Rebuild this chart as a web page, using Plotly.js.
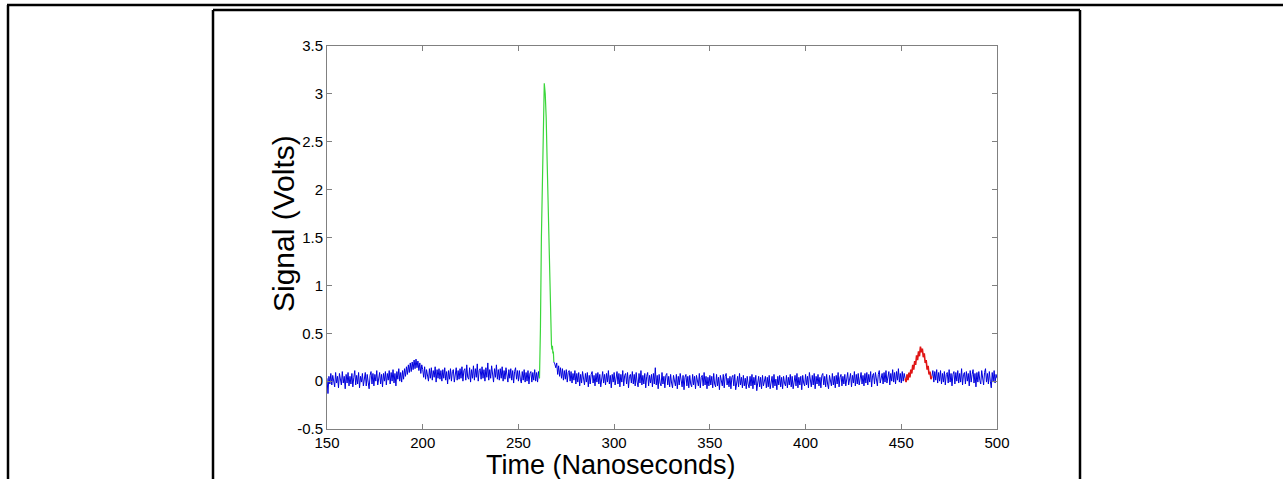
<!DOCTYPE html>
<html>
<head>
<meta charset="utf-8">
<script src="https://cdn.plot.ly/plotly-3.0.1.min.js"></script>
<style>html,body{margin:0;padding:0;background:#fff;}#chart{width:1283px;height:479px;}</style>
</head>
<body>
<div id="chart"></div>
<script>
// Blue trace: baseline signal, sampled every 0.5 ns from 150 ns to 500 ns (nulls where green/red overlay)
var blueStart = 150;
var blueStep = 0.5;
var blueSignal = [
0.03,-0.13,0.05,-0.03,0.08,-0.04,0.06,0.0,-0.06,0.09,-0.02,0.05,-0.07,0.08,0.01,-0.04,0.1,-0.02,0.05,-0.08,
0.07,-0.02,0.09,-0.05,0.05,-0.03,0.08,-0.06,0.04,0.11,-0.04,0.06,-0.03,0.09,-0.07,0.05,-0.01,0.08,-0.05,0.04,
0.09,-0.05,0.07,-0.01,-0.08,0.06,0.1,-0.03,0.08,-0.05,0.07,0.0,0.11,-0.04,0.05,0.09,-0.03,0.07,-0.06,0.08,
0.0,0.1,-0.04,0.08,0.01,0.11,-0.03,0.09,0.0,0.12,-0.02,0.08,-0.05,0.1,0.02,0.13,0.0,0.09,-0.01,0.11,
0.02,0.13,0.05,0.15,0.07,0.17,0.09,0.19,0.1,0.2,0.12,0.22,0.13,0.23,0.14,0.21,0.11,0.19,0.08,0.17,
0.12,0.04,0.15,0.02,0.12,0.05,0.0,0.13,0.03,0.14,0.01,0.11,0.04,0.15,-0.01,0.12,0.03,0.13,0.02,0.11,
0.0,0.12,0.03,0.14,0.01,0.1,-0.03,0.11,0.02,0.13,0.0,0.1,0.12,-0.01,0.09,0.14,0.01,0.11,0.02,0.13,
0.03,0.15,0.0,0.11,0.13,0.01,0.17,0.04,0.02,0.14,-0.01,0.12,0.03,0.16,0.01,0.13,0.04,0.18,0.0,0.11,
0.13,0.02,0.15,0.03,0.12,0.0,0.14,0.04,0.19,0.01,0.12,0.03,0.16,0.05,-0.01,0.13,0.04,0.17,0.02,0.12,
0.01,0.13,0.03,0.15,0.0,0.11,0.02,0.14,0.04,-0.01,0.12,0.03,0.13,0.01,0.11,-0.02,0.1,0.14,0.02,0.11,
0.0,0.11,0.02,-0.02,0.1,0.01,0.12,-0.01,0.09,0.0,0.11,-0.03,0.08,0.1,-0.01,0.09,0.01,0.12,0.0,0.09,
-0.01,0.1,0.03,null,null,null,null,null,null,null,null,null,null,null,null,null,null,0.2,0.18,0.14,
0.19,0.07,0.16,0.05,0.14,0.03,0.13,0.01,0.11,0.02,0.12,-0.01,0.09,0.11,0.0,0.1,-0.02,0.08,0.01,0.11,
-0.03,0.08,-0.01,0.09,-0.05,0.07,-0.02,0.1,0.0,-0.04,0.08,-0.01,0.09,-0.06,0.06,-0.03,0.07,0.1,-0.02,0.06,
-0.05,0.08,-0.01,0.09,-0.03,0.07,-0.06,0.06,0.1,-0.02,0.07,-0.04,0.08,-0.01,0.11,-0.03,0.06,-0.07,0.07,-0.01,
0.09,-0.04,0.06,0.1,-0.03,0.08,-0.06,0.07,-0.01,0.11,-0.05,0.06,0.08,-0.03,0.09,-0.07,0.05,0.07,-0.02,0.1,
-0.03,0.07,-0.05,0.09,-0.01,-0.06,0.08,-0.02,0.11,-0.04,0.06,-0.03,0.08,-0.07,0.05,0.09,-0.05,0.06,-0.02,0.07,
-0.06,0.08,-0.03,0.14,-0.04,0.06,-0.08,0.07,-0.02,-0.05,0.09,-0.03,0.05,-0.07,0.06,0.08,-0.04,0.05,-0.06,0.07,
-0.02,-0.07,0.06,-0.03,-0.05,0.07,-0.08,0.05,-0.04,0.08,-0.03,-0.06,0.06,-0.09,0.04,0.07,-0.05,0.05,-0.07,0.06,
-0.03,-0.06,0.07,-0.04,0.05,-0.08,0.06,-0.03,-0.05,0.08,-0.07,0.04,0.06,-0.05,0.09,-0.04,0.05,-0.08,0.04,-0.05,
0.06,-0.04,0.05,-0.07,0.08,-0.03,-0.06,0.07,-0.05,0.04,-0.09,0.06,-0.03,-0.05,0.07,-0.07,0.05,0.08,-0.04,0.03,
-0.06,0.05,-0.08,0.04,0.06,-0.05,0.07,-0.09,-0.02,0.05,-0.06,0.08,-0.04,0.04,-0.07,0.06,-0.05,0.03,-0.08,0.05,
-0.03,-0.07,0.05,-0.05,0.07,-0.08,0.04,-0.04,0.06,-0.1,-0.02,0.05,-0.06,0.04,-0.08,0.06,-0.05,0.02,0.05,-0.07,
0.04,-0.06,0.06,-0.08,-0.02,0.05,-0.07,0.07,-0.05,0.02,-0.09,0.05,-0.04,0.06,-0.06,0.04,-0.08,0.05,-0.02,-0.05,
0.06,-0.07,0.04,-0.04,0.07,-0.06,0.05,-0.08,-0.01,0.06,-0.05,0.08,-0.07,0.04,-0.04,0.05,-0.09,0.06,-0.02,-0.05,
0.07,-0.04,0.05,-0.07,0.09,-0.03,-0.06,0.06,-0.04,0.08,-0.08,0.05,-0.03,0.07,-0.05,0.04,-0.07,0.06,0.08,-0.04,
0.05,-0.06,0.07,-0.03,-0.08,0.06,-0.02,-0.05,0.08,-0.04,0.05,-0.07,0.06,-0.03,0.09,-0.06,0.04,0.07,-0.05,0.05,
-0.03,0.07,-0.05,0.06,0.09,-0.04,0.05,0.08,-0.06,0.06,-0.02,0.1,-0.05,0.07,-0.03,0.08,-0.04,0.06,0.09,-0.03,
0.06,-0.05,0.08,-0.02,0.09,-0.04,0.07,-0.01,0.1,-0.06,0.06,0.08,-0.03,0.09,-0.01,-0.05,0.07,0.11,-0.02,0.06,
0.08,-0.03,0.09,-0.01,0.11,-0.02,0.07,0.1,-0.04,0.08,0.0,0.12,-0.01,0.09,-0.03,0.1,0.01,0.13,-0.01,0.08,
-0.02,0.1,0.0,0.08,0.03,null,null,null,null,null,null,null,null,null,null,null,null,null,null,null,
null,null,null,null,null,null,null,null,null,null,null,null,0.05,0.11,-0.01,0.1,0.01,0.12,-0.02,0.09,
0.0,0.11,-0.03,0.08,-0.01,0.1,-0.04,0.07,0.09,-0.02,0.12,-0.01,0.08,-0.05,0.07,0.1,-0.03,0.09,0.0,0.11,
-0.02,0.08,-0.01,0.13,-0.04,0.07,0.09,-0.03,0.1,0.0,0.08,-0.05,0.11,-0.01,0.07,0.12,-0.02,0.08,-0.06,0.09,
-0.01,0.1,0.01,-0.03,0.11,0.0,-0.04,0.09,0.13,-0.01,0.08,-0.03,0.1,0.0,-0.07,0.09,-0.01,0.11,-0.02,0.07,
0.03
];

// Green trace: main pulse
var greenTime = [261.0,261.5,262.0,262.5,263.0,263.5,264.0,264.5,265.0,265.5,266.0,266.5,267.0,267.25,267.5,267.75,268.0,268.25,268.5];
var greenSignal = [0.03,0.55,1.5,2.1,2.65,3.11,3.0,2.75,2.3,1.8,1.25,0.77,0.45,0.38,0.33,0.37,0.29,0.31,0.2];

// Red trace: second pulse, sampled every 0.5 ns from 452 ns
var redStart = 452;
var redStep = 0.5;
var redSignal = [0.03,-0.01,0.07,0.01,0.09,0.04,0.12,0.08,0.17,0.12,0.21,0.17,0.27,0.22,0.31,0.26,0.36,0.3,0.34,0.25,0.29,0.19,0.22,0.12,0.16,0.07,0.1,0.02,0.05];

// Axis ticks
var xTickVals = [150,200,250,300,350,400,450,500];
var xTickText = ['150','200','250','300','350','400','450','500'];
var yTickVals = [-0.5,0,0.5,1,1.5,2,2.5,3,3.5];
var yTickText = ['-0.5','0','0.5','1','1.5','2','2.5','3','3.5'];

var W = 1283, H = 479;
var plotL = 327, plotR = 997, plotT = 46, plotB = 429;
function px(x){ return (x - plotL) / (plotR - plotL); }
function py(y){ return (plotB - y) / (plotB - plotT); }

var FONT = 'Arial, "Liberation Sans", Helvetica, sans-serif';
var axisGray = '#808080';

var traces = [
  {type:'scatter', mode:'lines', x0: blueStart, dx: blueStep, y: blueSignal,
   line:{color:'#0000dd', width:1}, connectgaps:false, hoverinfo:'skip', showlegend:false},
  {type:'scatter', mode:'lines', x: greenTime, y: greenSignal,
   line:{color:'#3ad63a', width:1.2}, hoverinfo:'skip', showlegend:false},
  {type:'scatter', mode:'lines', x0: redStart, dx: redStep, y: redSignal,
   line:{color:'#e01515', width:1.6}, hoverinfo:'skip', showlegend:false}
];

function frameLine(x0,y0,x1,y1,w){
  return {type:'line', xref:'paper', yref:'paper', x0:px(x0), y0:py(y0), x1:px(x1), y1:py(y1),
          line:{color:'#000', width:w}};
}

var layout = {
  width: W, height: H,
  margin: {l: plotL, r: W - plotR, t: plotT, b: H - plotB, pad: 0},
  paper_bgcolor: '#fff', plot_bgcolor: '#fff',
  font: {family: FONT, color: '#000', size: 14},
  showlegend: false,
  xaxis: {
    range: [150, 500], tickvals: xTickVals, ticktext: xTickText,
    showgrid: false, zeroline: false, showline: true, linecolor: axisGray, linewidth: 1,
    mirror: 'ticks', ticks: 'inside', ticklen: 5, tickcolor: axisGray, tickwidth: 1,
    tickfont: {family: FONT, size: 15, color: '#000'}
  },
  yaxis: {
    range: [-0.5, 3.5], tickvals: yTickVals, ticktext: yTickText,
    showgrid: false, zeroline: false, showline: true, linecolor: axisGray, linewidth: 1,
    mirror: 'ticks', ticks: 'inside', ticklen: 5, tickcolor: axisGray, tickwidth: 1,
    tickfont: {family: FONT, size: 15, color: '#000'}
  },
  annotations: [
    {text: 'Time (Nanoseconds)', xref: 'paper', yref: 'paper', x: px(611), y: py(465),
     xanchor: 'center', yanchor: 'middle', showarrow: false, borderpad: 0,
     font: {family: FONT, size: 27, color: '#000'}},
    {text: 'Signal (Volts)', xref: 'paper', yref: 'paper', x: px(283), y: py(224),
     xanchor: 'center', yanchor: 'middle', showarrow: false, textangle: -90, borderpad: 0,
     font: {family: FONT, size: 30, color: '#000'}}
  ],
  shapes: [
    frameLine(7, 5, 1283, 5, 2.5),
    frameLine(8, 5, 8, 479, 2.5),
    frameLine(213, 10, 1080, 10, 2.5),
    frameLine(213, 10, 213, 479, 2.5),
    frameLine(1080, 10, 1080, 479, 2.5)
  ]
};

Plotly.newPlot('chart', traces, layout, {staticPlot: true, displayModeBar: false});
</script>
</body>
</html>
